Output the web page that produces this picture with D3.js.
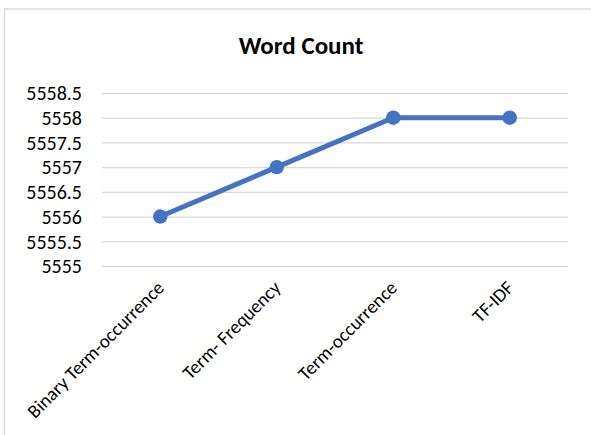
<!DOCTYPE html>
<html>
<head>
<meta charset="utf-8">
<script src="https://cdn.jsdelivr.net/npm/d3@7"></script>
<style>
	body { margin: 0; background: #fff; }
	text { font-family: Calibri, Carlito, "Open Sans", sans-serif; }
</style>
</head>
<body>
<div id="chart"></div>
<script>
// word count per weighting scheme
var categories = ["Binary Term-occurrence", "Term- Frequency", "Term-occurrence", "TF-IDF"];
var wordCounts = [5556, 5557, 5558, 5558];
var yTicks = [5555, 5555.5, 5556, 5556.5, 5557, 5557.5, 5558, 5558.5];

var width = 591, height = 435;
var plotLeft = 102, plotRight = 568, plotTop = 93, plotBottom = 266;

var svg = d3.select("#chart").append("svg")
	.attr("width", width)
	.attr("height", height);

// chart area border (only top and left show in the crop)
svg.append("path")
	.attr("d", "M4.5," + height + "V9H" + width)
	.style("fill", "none")
	.style("stroke", "#d9d9d9")
	.style("stroke-width", 1.5);

svg.append("text")
	.attr("x", 301)
	.attr("y", 54)
	.attr("text-anchor", "middle")
	.style("font-size", "25px")
	.style("font-weight", "bold")
	.style("fill", "#000")
	.text("Word Count");

var x = d3.scaleBand()
	.domain(categories)
	.range([plotLeft, plotRight]);

var y = d3.scaleLinear()
	.domain([5555, 5558.5])
	.range([plotBottom, plotTop]);

// gridlines
svg.append("g")
	.attr("transform", "translate(" + plotLeft + ",0)")
	.call(d3.axisLeft(y).tickValues(yTicks).tickSize(-(plotRight - plotLeft)).tickFormat(""))
	.call(function(g) {
		g.select(".domain").remove();
		g.selectAll("line").style("stroke", "#d9d9d9").style("stroke-width", 1.3);
	});

// y labels
svg.append("g")
	.attr("transform", "translate(" + plotLeft + ",0)")
	.call(d3.axisLeft(y).tickValues(yTicks).tickSize(0).tickPadding(20).tickFormat(d3.format("")))
	.call(function(g) {
		g.select(".domain").remove();
		g.selectAll("text")
			.attr("dy", "0.34em")
			.style("font-size", "20px")
			.style("fill", "#000")
			.style("font-family", "Calibri, Carlito, 'Open Sans', sans-serif");
	});

// x labels rotated
svg.append("g")
	.selectAll("text")
	.data(categories)
	.join("text")
	.attr("transform", function(d) {
		return "translate(" + (x(d) + x.bandwidth() / 2 + 5) + ",289) rotate(-45)";
	})
	.attr("text-anchor", "end")
	.style("font-size", "19px")
	.style("fill", "#000")
	.text(function(d) { return d; });

var pts = categories.map(function(c, i) { return {cat: c, val: wordCounts[i]}; });

var line = d3.line()
	.x(function(d) { return x(d.cat) + x.bandwidth() / 2; })
	.y(function(d) { return y(d.val); });

svg.append("path")
	.datum(pts)
	.attr("d", line)
	.style("fill", "none")
	.style("stroke", "#4472c4")
	.style("stroke-width", 5)
	.style("stroke-linejoin", "round");

svg.append("g")
	.selectAll("circle")
	.data(pts)
	.join("circle")
	.attr("cx", function(d) { return x(d.cat) + x.bandwidth() / 2; })
	.attr("cy", function(d) { return y(d.val); })
	.attr("r", 7.2)
	.style("fill", "#4472c4");
</script>
</body>
</html>
